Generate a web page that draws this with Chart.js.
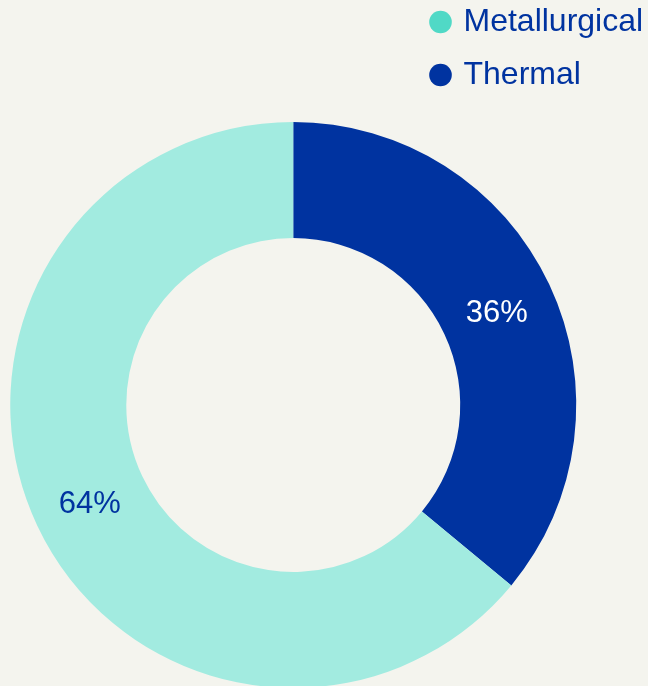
<!DOCTYPE html>
<html>
<head>
<meta charset="utf-8">
<script src="https://cdn.jsdelivr.net/npm/chart.js@4/dist/chart.umd.min.js"></script>
<style>
  html, body { margin: 0; padding: 0; background: #f4f4ee; overflow: hidden; }
  .wrap { position: absolute; left: 0; top: -15px; width: 660px; height: 840px; }
</style>
</head>
<body>
<div class="wrap"><canvas id="myChart" width="660" height="840"></canvas></div>
<script>
const categories = ['Thermal', 'Metallurgical']
const shares = [36, 64]
const sliceColors = ['#0033a0', '#a2ebe0']
const legendColors = ['#0033a0', '#50d9c6']
const labelColors = ['#ffffff', '#0033a0']

Chart.defaults.font.family = '"Liberation Sans", Arial, sans-serif'

// percent labels in the middle of each ring slice
const sliceLabels = {
    id: 'sliceLabels',
    afterDatasetsDraw(chart) {
        const ctx = chart.ctx
        const meta = chart.getDatasetMeta(0)
        ctx.save()
        ctx.font = '31px "Liberation Sans", Arial, sans-serif'
        ctx.textAlign = 'center'
        ctx.textBaseline = 'middle'
        meta.data.forEach((arc, i) => {
            const p = arc.tooltipPosition()
            ctx.fillStyle = labelColors[i]
            ctx.fillText(shares[i] + '%', p.x, p.y + 4)
        })
        ctx.restore()
    }
}

const ctx = document.getElementById('myChart').getContext('2d')
const chart = new Chart(ctx, {
    type: 'doughnut',
    data: {
        labels: categories,
        datasets: [{
            data: shares,
            backgroundColor: sliceColors,
            borderWidth: 0
        }]
    },
    options: {
        responsive: false,
        animation: false,
        cutout: '59%',
        radius: 283,
        layout: {
            padding: { left: 174, right: 9, top: 0, bottom: 0 }
        },
        plugins: {
            tooltip: { enabled: false },
            legend: {
                position: 'right',
                align: 'start',
                reverse: true,
                labels: {
                    usePointStyle: true,
                    pointStyle: 'circle',
                    boxWidth: 14,
                    boxHeight: 16,
                    padding: 21,
                    color: '#0033a0',
                    font: { size: 32 },
                    generateLabels(chart) {
                        const items = Chart.overrides.doughnut.plugins.legend.labels.generateLabels(chart)
                        items.forEach(item => {
                            item.fillStyle = legendColors[item.index]
                            item.strokeStyle = legendColors[item.index]
                            item.lineWidth = 0
                        })
                        return items
                    }
                }
            }
        }
    },
    plugins: [sliceLabels]
})
</script>
</body>
</html>
